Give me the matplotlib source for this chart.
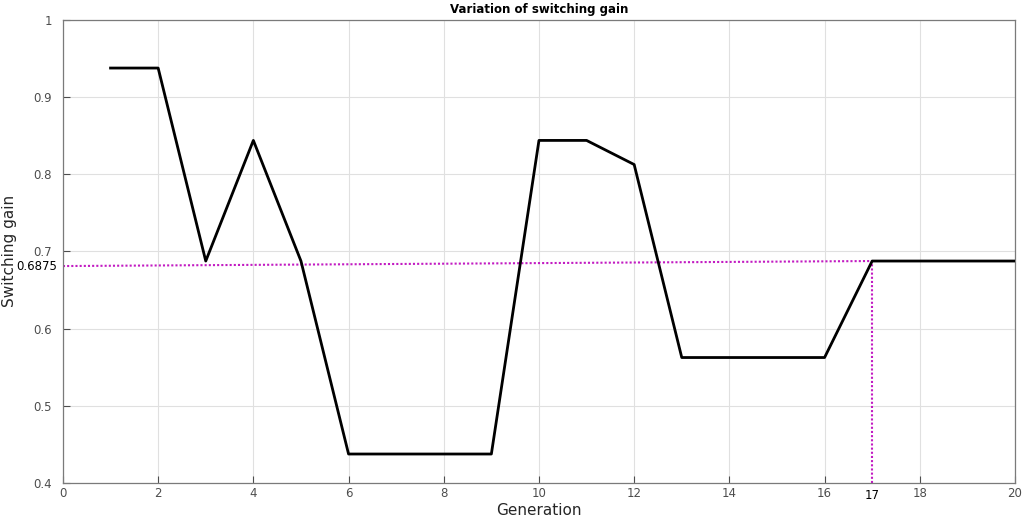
import matplotlib.pyplot as plt
import numpy as np

generation = [1, 2, 3, 4, 5, 6, 7, 8, 9, 10, 11, 12, 13, 14, 15, 16, 17, 18, 19, 20]
gain = [0.9375, 0.9375, 0.6875, 0.84375, 0.6875, 0.4375, 0.4375, 0.4375, 0.4375,
        0.84375, 0.84375, 0.8125, 0.5625, 0.5625, 0.5625, 0.5625, 0.6875, 0.6875,
        0.6875, 0.6875]

best_gen = 17
best_gain = 0.6875
marker_start = 0.681  # level of the guide line where it meets the y axis

x_ticks = np.arange(0, 21, 2)
y_ticks = [0.4, 0.5, 0.6, 0.7, 0.8, 0.9, 1]
y_ticklabels = ["0.4", "0.5", "0.6", "0.7", "0.8", "0.9", "1"]

GREY = "#262626"
TICK_GREY = "#4d4d4d"
MAGENTA = "#c21bc2"

fig = plt.figure(figsize=(10.32, 5.21), dpi=100)
ax = fig.add_axes([0.061, 0.073, 0.9225, 0.889])

ax.plot(generation, gain, color="black", lw=2, zorder=3)

# guide lines to the chosen generation
ax.plot([0, best_gen], [marker_start, best_gain], color=MAGENTA,
        ls=(0, (1, 1)), lw=1.5, zorder=2)
ax.plot([best_gen, best_gen], [0.4, best_gain], color=MAGENTA,
        ls=(0, (1, 1)), lw=1.5, zorder=2)

ax.set_xlim(0, 20)
ax.set_ylim(0.4, 1)
ax.set_xticks(x_ticks)
ax.set_yticks(y_ticks)
ax.set_yticklabels(y_ticklabels)
ax.grid(True, color="#e0e0e0", lw=0.8)
ax.set_axisbelow(True)
ax.tick_params(direction="in", length=5, width=0.8, colors=TICK_GREY,
               labelsize=8.5)
ax.tick_params(axis="y", pad=8)
ax.tick_params(axis="x", pad=3)
for spine in ax.spines.values():
    spine.set_color("#7a7a7a")
    spine.set_linewidth(0.9)

ax.text(-0.12, marker_start, "%g" % best_gain, ha="right", va="center",
        fontsize=8.5, color="black")
ax.text(best_gen, 0.4 - 0.008, str(best_gen), ha="center", va="top",
        fontsize=8.5, color="black")

ax.set_xlabel("Generation", fontsize=11, color=GREY, labelpad=2)
ax.set_ylabel("Switching gain", fontsize=11, color=GREY, labelpad=12)
ax.set_title("Variation of switching gain", fontsize=8.5, fontweight="bold",
             color="black", pad=5)

fig.savefig("out.png", dpi=100)
